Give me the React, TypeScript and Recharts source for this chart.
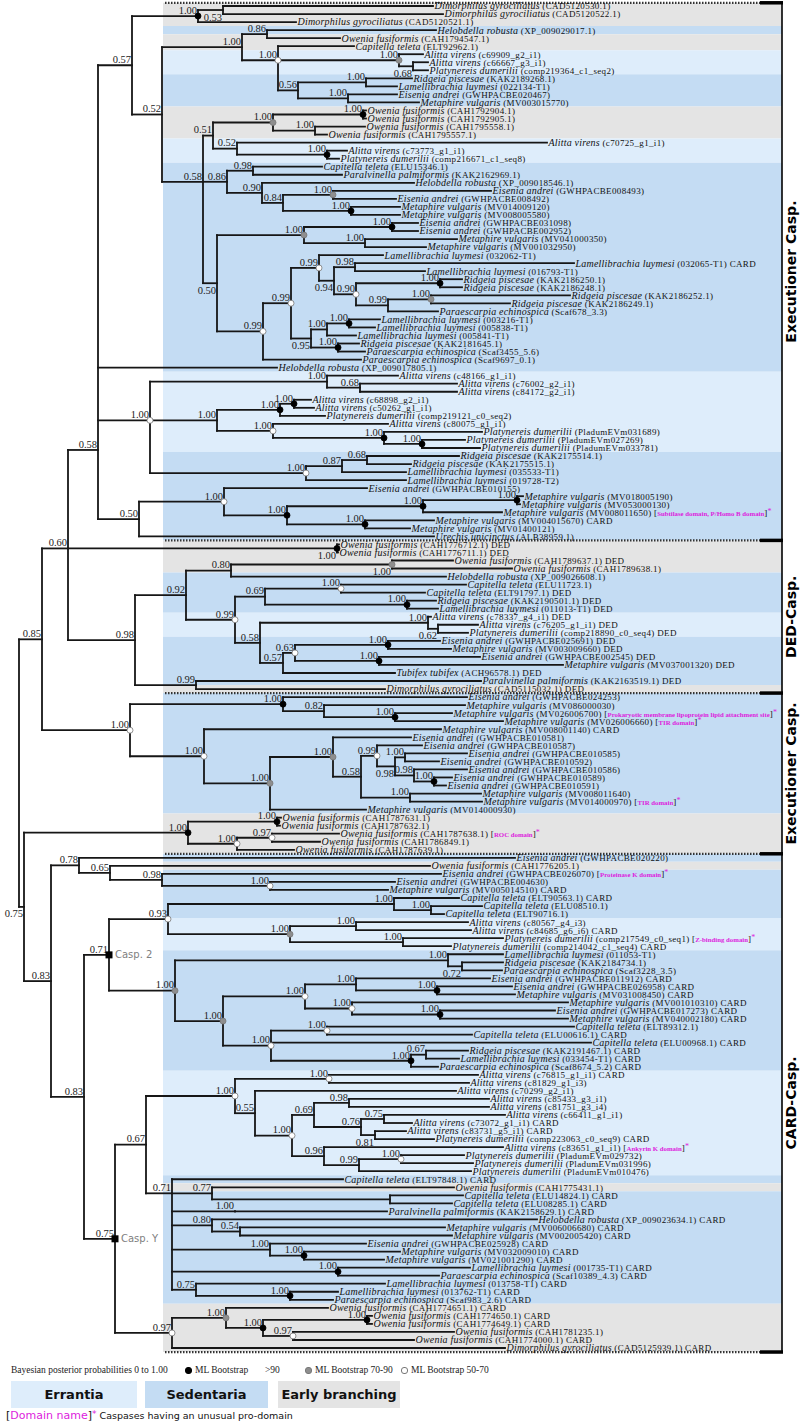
import React from 'react';
import { ComposedChart, XAxis, YAxis, Scatter, ReferenceLine, ReferenceArea } from 'recharts';

const W = 800;
const H = 1428;
const ROW = 8.036; // pixel height of one leaf row
const Y0 = 1 - 6 / ROW;
const Y1 = Y0 + H / ROW;

const SPECIES: Record<string, string> = {
  Dg: 'Dimorphilus gyrociliatus', Hr: 'Helobdella robusta', Of: 'Owenia fusiformis',
  Ct: 'Capitella teleta', Av: 'Alitta virens', Pd: 'Platynereis dumerilii',
  Rp: 'Ridgeia piscesae', Ll: 'Lamellibrachia luymesi', Ea: 'Eisenia andrei',
  Mv: 'Metaphire vulgaris', Pp: 'Paralvinella palmiformis', Pe: 'Paraescarpia echinospica',
  Tt: 'Tubifex tubifex', Uu: 'Urechis unicinctus',
};
// E = Errantia, B = early branching, everything else Sedentaria
const CLADE: Record<string, string> = { Av: 'E', Pd: 'E', Of: 'B', Dg: 'B' };
// rows whose background differs from the species rule in the figure
const BAND_OVERRIDE: Record<number, string> = { 6: 'B' };

const LEAF_SPECIES = `Dg Dg Dg Hr Of Ct Av Av Pd Rp Ll Ea Mv Of Of Of Of Av Av Pd
Ct Pp Hr Ea Ea Mv Mv Ea Ea Mv Mv Ll Ll Ll Rp Rp Rp Rp Pe Ll
Ll Ll Rp Pe Pe Hr Av Av Av Av Av Pd Av Pd Pd Pd Rp Rp Ll Ll
Ea Mv Mv Mv Mv Mv Uu Of Of Of Of Hr Ct Ct Rp Ll Av Av Pd Ea
Mv Ea Mv Tt Pp Dg Ea Mv Mv Mv Mv Ea Ea Ea Ea Ea Ea Ea Mv Mv
Mv Of Of Of Of Of Ea Of Ea Ea Mv Ct Ct Ct Av Av Pd Pd Ll Rp
Pe Ea Ea Mv Mv Ea Mv Ct Ct Ct Rp Ll Pe Av Av Av Av Av Av Av
Av Pd Av Pd Pd Pd Ct Of Ct Ct Pp Hr Mv Mv Ea Mv Mv Ll Pe Ll
Ll Pe Of Of Of Of Of Dg`.split(/\s+/);

const LEAF_ACC = [
  'CAD5120530.1', 'CAD5120522.1', 'CAD5120521.1', 'XP_009029017.1', 'CAH1794547.1', 'ELT92962.1', 'c69909_g2_i1', 'c66667_g3_i1', 'comp219364_c1_seq2', 'KAK2189268.1',
  '022134-T1', 'GWHPACBE020467', 'MV003015770', 'CAH1792904.1', 'CAH1792905.1', 'CAH1795558.1', 'CAH1795557.1', 'c70725_g1_i1', 'c73773_g1_i1', 'comp216671_c1_seq8',
  'ELU15346.1', 'KAK2162969.1', 'XP_009018546.1', 'GWHPACBE008493', 'GWHPACBE008492', 'MV014009120', 'MV008005580', 'GWHPACBE031098', 'GWHPACBE002952', 'MV041000350',
  'MV001032950', '032062-T1', '032065-T1', '016793-T1', 'KAK2186250.1', 'KAK2186248.1', 'KAK2186252.1', 'KAK2186249.1', 'Scaf678_3.3', '003216-T1',
  '005838-T1', '005841-T1', 'KAK2181645.1', 'Scaf3455_5.6', 'Scaf9697_0.1', 'XP_009017805.1', 'c48166_g1_i1', 'c76002_g2_i1', 'c84172_g2_i1', 'c68898_g2_i1',
  'c50262_g1_i1', 'comp219121_c0_seq2', 'c80075_g1_i1', 'PladumEVm031689', 'PladumEVm027269', 'PladumEVm033781', 'KAK2175514.1', 'KAK2175515.1', '035533-T1', '019728-T2',
  'GWHPACBE010155', 'MV018005190', 'MV053000130', 'MV008011650', 'MV004015670', 'MV01400121', 'ALB38959.1', 'CAH1776712.1', 'CAH1776711.1', 'CAH1789637.1',
  'CAH1789638.1', 'XP_009026608.1', 'ELU11723.1', 'ELT91797.1', 'KAK2190501.1', '011013-T1', 'c78337_g4_i1', 'c76205_g1_i1', 'comp218890_c0_seq4', 'GWHPACBE025691',
  'MV003009660', 'GWHPACBE002545', 'MV037001320', 'ACH96578.1', 'KAK2163519.1', 'CAD5115032.1', 'GWHPACBE024253', 'MV086000030', 'MV026006700', 'MV026006660',
  'MV008001140', 'GWHPACBE010581', 'GWHPACBE010587', 'GWHPACBE010585', 'GWHPACBE010592', 'GWHPACBE010586', 'GWHPACBE010589', 'GWHPACBE010591', 'MV008011640', 'MV014000970',
  'MV014000930', 'CAH1787631.1', 'CAH1787632.1', 'CAH1787638.1', 'CAH1786849.1', 'CAH1787639.1', 'GWHPACBE020220', 'CAH1776205.1', 'GWHPACBE026070', 'GWHPACBE004630',
  'MV005014510', 'ELT90563.1', 'ELU08510.1', 'ELT90716.1', 'c80567_g4_i3', 'c84685_g6_i6', 'comp217549_c0_seq1', 'comp214042_c1_seq4', '011053-T1', 'KAK2184734.1',
  'Scaf3228_3.5', 'GWHPACBE011912', 'GWHPACBE026958', 'MV031008450', 'MV001010310', 'GWHPACBE017273', 'MV040002180', 'ELT89312.1', 'ELU00616.1', 'ELU00968.1',
  'KAK2191467.1', '033454-T1', 'Scaf8674_5.2', 'c76815_g1_i1', 'c81829_g1_i3', 'c70299_g2_i1', 'c85433_g3_i1', 'c81751_g3_i4', 'c66411_g1_i1', 'c73072_g1_i1',
  'c83731_g5_i1', 'comp223063_c0_seq9', 'c83651_g1_i1', 'PladumEVm029732', 'PladumEVm031996', 'PladumEVm010476', 'ELT97848.1', 'CAH1775431.1', 'ELU14824.1', 'ELU08285.1',
  'KAK2158629.1', 'XP_009023634.1', 'MV006006680', 'MV002005420', 'GWHPACBE025928', 'MV032009010', 'MV021001290', '001735-T1', 'Scaf10389_4.3', '013758-T1',
  '013762-T1', 'Scaf983_2.6', 'CAH1774651.1', 'CAH1774650.1', 'CAH1774649.1', 'CAH1781235.1', 'CAH1774000.1', 'CAD5125939.1',
];

// C = CARD, D = DED, - = none
const LEAF_TAG = (
  '--------------------' + '------------C-------' + '--------------------' + '----C--DDD---DDDDDDD' +
  'DDDDDD----C---------' + '----------CC---C-C--' + '-CCCCCC-CCCCCC-----C' + 'CC----C-CCCCCCCCCCCC' + 'CCCCC-CC'
).split('');

const DOMAINS: Record<number, string> = {
  64: 'Subtilase domain, P/Homo B domain',
  89: 'Prokaryotic membrane lipoprotein lipid attachment site',
  90: 'TIR domain',
  100: 'TIR domain',
  104: 'ROC domain',
  109: 'Proteinase K domain',
  117: 'Z-binding domain',
  143: 'Ankyrin K domain',
};

// branch tip (x) of every leaf
const LEAF_TIP = [
  433, 443, 296, 436, 340, 354, 423, 428, 428, 412,
  397, 397, 419, 366, 366, 365, 327, 547, 347, 339,
  322, 342, 414, 491, 396, 400, 400, 418, 418, 457,
  426, 383, 574, 425, 462, 462, 570, 510, 438, 380,
  375, 356, 359, 365, 361, 277, 398, 457, 457, 311,
  314, 325, 388, 482, 465, 480, 459, 411, 406, 406,
  367, 523, 520, 502, 434, 410, 434, 339, 338, 453,
  512, 446, 466, 425, 436, 438, 431, 478, 468, 440,
  451, 480, 563, 395, 481, 385, 467, 465, 452, 503,
  441, 411, 422, 467, 439, 467, 452, 446, 481, 482,
  366, 281, 280, 339, 320, 294, 515, 430, 441, 395,
  388, 459, 482, 444, 468, 471, 503, 451, 503, 503,
  502, 490, 512, 515, 568, 555, 568, 574, 472, 591,
  468, 459, 438, 478, 469, 456, 489, 489, 505, 412,
  406, 434, 503, 464, 473, 471, 343, 454, 463, 452,
  387, 537, 445, 452, 366, 400, 384, 470, 439, 385,
  338, 333, 328, 372, 372, 454, 414, 505,
];

// sections: last leaf of each block
const SECTION_ENDS = [67, 86, 106, 168];
const SECTION_NAMES = ['Executioner Casp.', 'DED-Casp.', 'Executioner Casp.', 'CARD-Casp.'];

type Kid = number | TNode;
interface TNode { x: number; s: string; b: string; kids: Kid[]; pos?: string; anchor?: number; casp?: string }
const n = (x: number, s: string, b: string, kids: Kid[], o: any = {}): TNode => ({ x, s, b, kids, ...o });

// ---- Executioner (top) ----
const a2 = n(223, '0.53', '', [1, 2], { pos: 'b' });
const a1 = n(198, '1.00', 'h', [a2, 3]);
const a4 = n(267, '0.86', '', [4, 5]);
const a6b = n(413, '0.68', '', [8, 9], { pos: 'b' });
const a6 = n(399, '1.00', 'm', [7, a6b]);
const a8 = n(366, '1.00', '', [10, 11]);
const a9 = n(348, '1.00', '', [12, 13]);
const a7 = n(298, '0.56', '', [a8, a9]);
const a5 = n(278, '1.00', 'l', [6, a6, a7], { anchor: 1 });
const a3 = n(242, '1.00', '', [a4, a5]);
const b3 = n(363, '1.00', 'h', [14, 15]);
const b4 = n(315, '1.00', '', [16, 17]);
const b2 = n(273, '1.00', 'm', [b3, b4]);
const b6 = n(327, '1.00', 'h', [19, 20]);
const b5 = n(237, '0.52', '', [18, b6]);
const b1 = n(213, '0.51', '', [b2, b5]);
const c2 = n(253, '0.98', '', [21, 22]);
const c5 = n(333, '1.00', 'm', [24, 25]);
const c6 = n(351, '1.00', 'h', [26, 27]);
const c4 = n(283, '0.84', '', [c5, c6]);
const c3 = n(262, '0.90', '', [23, c4]);
const c1 = n(227, '0.86', '', [c2, c3]);
const e3 = n(392, '1.00', 'h', [28, 29]);
const e4 = n(365, '1.00', '', [30, 31]);
const e1 = n(304, '1.00', 'm', [e3, e4]);
const g3 = n(355, '0.98', '', [33, 34]);
const g7 = n(440, '1.00', 'h', [35, 36]);
const g8 = n(431, '1.00', 'm', [37, 38]);
const g6 = n(388, '0.99', '', [g8, 39]);
const g5 = n(356, '0.90', 'l', [g7, g6]);
const g4 = n(334, '0.94', '', [g3, g5], { pos: 'b' });
const g1 = n(319, '0.99', 'l', [32, g4]);
const g9 = n(349, '1.00', 'h', [40, 41]);
const g2 = n(327, '1.00', '', [g9, 42]);
const h1 = n(338, '1.00', 'h', [43, 44]);
const f2 = n(311, '0.95', '', [g2, h1], { pos: 'b' });
const f1 = n(291, '0.99', 'l', [g1, f2]);
const e2 = n(263, '0.99', 'l', [f1, 45]);
const d1 = n(217, '0.50', '', [e1, e2], { pos: 'b' });
const in58 = n(203, '0.58', '', [b1, c1, d1], { anchor: 1 });
const n52 = n(162, '0.52', '', [a3, in58]);
const n57 = n(132, '0.57', '', [a1, n52]);
const i2 = n(360, '0.68', '', [48, 49]);
const i1 = n(327, '1.00', '', [47, i2]);
const i5 = n(294, '1.00', 'h', [50, 51]);
const i4 = n(280, '1.00', 'h', [i5, 52]);
const i8 = n(422, '1.00', 'h', [55, 56]);
const i7 = n(384, '1.00', 'h', [54, i8]);
const i6 = n(273, '1.00', 'l', [53, i7]);
const i3 = n(217, '1.00', '', [i4, i6]);
const j3 = n(367, '0.68', '', [57, 58]);
const j2 = n(342, '0.87', '', [j3, 59]);
const j1 = n(306, '1.00', 'l', [j2, 60]);
const n100 = n(150, '1.00', 'l', [i1, i3, j1], { anchor: 1 });
const k6 = n(517, '1.00', 'h', [62, 63]);
const k4 = n(423, '1.00', 'h', [k6, 64]);
const k5 = n(365, '1.00', 'h', [65, 66]);
const k3 = n(287, '1.00', 'h', [k4, k5]);
const k2 = n(224, '1.00', 'l', [61, k3]);
const k1 = n(139, '0.50', '', [k2, 67]);
const X = n(98, '0.58', '', [n57, 46, n100, k1], { anchor: 2.3 });
// ---- DED ----
const l1 = n(337, '1.00', 'h', [68, 69], { pos: 'b' });
const m6 = n(392, '1.00', 'm', [70, 71], { pos: 'b' });
const m4 = n(231, '0.80', '', [m6, 72]);
const m9 = n(341, '1.00', 'l', [73, 74]);
const m10 = n(407, '1.00', 'h', [75, 76]);
const m7 = n(265, '0.69', '', [m9, m10]);
const m12 = n(438, '0.62', '', [78, 79], { pos: 'b' });
const m11 = n(428, '1.00', '', [77, m12]);
const m15 = n(388, '1.00', 'h', [80, 81]);
const m16 = n(379, '1.00', 'h', [82, 83]);
const m14 = n(295, '0.63', 'l', [m15, m16]);
const m13 = n(283, '0.57', '', [m14, 84]);
const m8 = n(260, '0.58', '', [m11, m13]);
const m5 = n(235, '0.99', 'l', [m7, m8]);
const m2 = n(186, '0.92', '', [m4, m5]);
const m3 = n(196, '0.99', '', [85, 86]);
const m1 = n(135, '0.98', '', [m2, m3]);
const n60 = n(68, '0.60', '', [X, l1, m1], { anchor: 1 });
// ---- Executioner (middle) ----
const n5 = n(395, '1.00', 'h', [89, 90]);
const n4 = n(324, '0.82', '', [88, n5]);
const n2 = n(283, '1.00', 'h', [87, n4]);
const n12 = n(405, '1.00', '', [94, 95]);
const n14 = n(434, '1.00', 'h', [97, 98]);
const n13 = n(414, '0.98', '', [96, n14]);
const n11 = n(395, '0.98', '', [n12, n13], { pos: 'b' });
const n9 = n(377, '0.99', 'l', [93, n11]);
const n10 = n(410, '1.00', '', [99, 100]);
const n8 = n(361, '0.58', '', [n9, n10]);
const n7 = n(333, '1.00', 'm', [92, n8]);
const n6 = n(270, '1.00', 'm', [n7, 101]);
const n3 = n(204, '1.00', 'l', [91, n6]);
const n1 = n(130, '1.00', 'l', [n2, n3]);
const n85 = n(42, '0.85', '', [n60, n1]);
const o2 = n(277, '1.00', 'h', [102, 103]);
const o4 = n(272, '0.97', 'l', [104, 105]);
const o3 = n(237, '1.00', 'l', [o4, 106]);
const o1 = n(188, '1.00', 'h', [o2, o3]);
// ---- CARD ----
const p5 = n(270, '1.00', 'l', [110, 111]);
const p4 = n(162, '0.98', '', [109, p5]);
const p3 = n(110, '0.65', '', [108, p4]);
const p1 = n(79, '0.78', '', [107, p3]);
const q5 = n(431, '1.00', '', [113, 114]);
const q3 = n(394, '1.00', '', [112, q5]);
const q6 = n(356, '1.00', '', [115, 116]);
const q7 = n(403, '1.00', '', [117, 118]);
const q4 = n(290, '1.00', 'm', [q6, q7]);
const q1 = n(168, '0.93', 'l', [q3, q4]);
const q9 = n(462, '0.72', '', [120, 121], { pos: 'b' });
const q8 = n(448, '1.00', '', [119, q9]);
const q13b = n(437, '1.00', 'h', [123, 124]);
const q13 = n(356, '1.00', '', [122, q13b]);
const q14b = n(440, '1.00', 'h', [126, 127]);
const q14 = n(352, '1.00', 'l', [125, q14b]);
const q11 = n(305, '1.00', 'l', [q13, q14]);
const q15 = n(327, '1.00', 'l', [128, 129]);
const q17 = n(426, '0.67', '', [131, 132]);
const q16 = n(411, '1.00', 'h', [q17, 133]);
const q12 = n(271, '1.00', 'l', [q15, 130, q16]);
const q10 = n(223, '1.00', 'm', [q11, q12]);
const q2 = n(175, '1.00', 'm', [q8, q10]);
const q0 = n(109, '0.71', '', [q1, q2], { casp: 'Casp. 2' });
const t1 = n(329, '1.00', 'l', [134, 135]);
const t6 = n(349, '0.98', '', [137, 138]);
const t8 = n(384, '0.75', '', [139, 140]);
const t9 = n(375, '0.81', '', [141, 142], { pos: 'b' });
const t7 = n(361, '0.76', '', [t8, t9]);
const t4 = n(314, '0.69', '', [t6, t7]);
const t11 = n(401, '1.00', 'l', [144, 145]);
const t10 = n(359, '0.99', '', [t11, 146]);
const t5 = n(324, '0.96', '', [143, t10]);
const t3 = n(292, '1.00', 'l', [t4, t5]);
const t2 = n(255, '0.55', '', [136, t3]);
const r2a = n(235, '1.00', 'l', [t1, t2]);
const s1b = n(390, '', '', [149, 150]);
const s1 = n(212, '0.77', '', [148, s1b]);
const s2 = n(235, '1.00', '', [151]);
const s7 = n(240, '0.54', '', [153, 154]);
const s3 = n(212, '0.80', '', [152, s7]);
const s4b = n(304, '1.00', 'h', [156, 157]);
const s4 = n(270, '1.00', '', [155, s4b]);
const s5 = n(338, '1.00', 'h', [158, 159]);
const s6b = n(290, '1.00', 'h', [161, 162]);
const s6 = n(196, '0.75', '', [160, s6b]);
const s0 = n(172, '0.71', '', [147, s1, s2, s3, s4, s5, s6], { anchor: 1 });
const r1 = n(146, '0.67', '', [r2a, s0]);
const u3 = n(367, '1.00', 'h', [164, 165]);
const u4 = n(293, '0.97', 'l', [166, 167]);
const u2 = n(263, '1.00', 'h', [u3, u4]);
const u1 = n(226, '1.00', 'm', [163, u2]);
const r2 = n(172, '0.97', 'l', [u1, 168]);
const r0 = n(115, '0.75', '', [r1, r2], { casp: 'Casp. Y' });
const p2 = n(84, '0.83', '', [q0, r0]);
const p0 = n(51, '0.83', '', [p1, p2]);
const n75 = n(24, '0.75', '', [o1, p0], { pos: 'b' });
const ROOT = n(19, '', '', [n85, n75]);

// ---- layout through the tree ----
const SEGS: { x1: number; y1: number; x2: number; y2: number }[] = [];
const NODE_PTS: any[] = [];
function layout(k: Kid): { x: number; y: number } {
  if (typeof k === 'number') return { x: LEAF_TIP[k - 1], y: k };
  const ps = k.kids.map(layout);
  const ys = ps.map((p) => p.y);
  let y = (ys[0] + ys[ys.length - 1]) / 2;
  if (k.anchor !== undefined) {
    const lo = Math.floor(k.anchor);
    const hi = Math.ceil(k.anchor);
    y = ys[lo] + (k.anchor - lo) * (ys[hi] - ys[lo]);
  }
  SEGS.push({ x1: k.x, y1: Math.min(...ys), x2: k.x, y2: Math.max(...ys) });
  ps.forEach((p) => SEGS.push({ x1: k.x, y1: p.y, x2: p.x, y2: p.y }));
  NODE_PTS.push({ x: k.x, y, s: k.s, b: k.b, pos: k.pos, casp: k.casp });
  return { x: k.x, y };
}
layout(ROOT);

const LEAF_PTS = LEAF_ACC.map((acc, i) => ({
  x: LEAF_TIP[i], y: i + 1, sp: SPECIES[LEAF_SPECIES[i]], acc,
  tag: LEAF_TAG[i] === 'C' ? 'CARD' : LEAF_TAG[i] === 'D' ? 'DED' : '', dom: DOMAINS[i + 1],
}));

const BAND_FILL: Record<string, string> = { E: '#deedfb', S: '#c4dcf3', B: '#e4e4e4' };
const TOP = 0.6;
const BANDS: { g: string; y1: number; y2: number }[] = [];
LEAF_SPECIES.forEach((code, i) => {
  const row = i + 1;
  const g = BAND_OVERRIDE[row] || CLADE[code] || 'S';
  const last = BANDS[BANDS.length - 1];
  if (last && last.g === g && !SECTION_ENDS.includes(row - 1)) last.y2 = row + 0.5;
  else BANDS.push({ g, y1: row === 1 ? TOP : row - 0.5, y2: row + 0.5 });
});
const SEP_ROWS = [TOP, ...SECTION_ENDS.map((r) => r + 0.5)];
const SECTION_PTS = SECTION_ENDS.map((end, i) => ({
  x: 791, y: ((i === 0 ? TOP : SECTION_ENDS[i - 1] + 0.5) + end + 0.5) / 2, t: SECTION_NAMES[i],
}));

const SERIF = "'Liberation Serif', 'Times New Roman', serif";
const SANS = "'DejaVu Sans', Verdana, sans-serif";
const PINK = '#dd22dd';
const INK = '#161616';

const LeafLabel = (p: any) => {
  const d = p.payload;
  return (
    <text x={p.cx + 1.5} y={p.cy} dy="0.34em" fontFamily={SERIF} fontSize={10} letterSpacing={0.2} fill="#111">
      <tspan fontStyle="italic">{d.sp}</tspan>
      <tspan fontSize={9} letterSpacing={0.35}>{` (${d.acc})${d.tag ? ' ' + d.tag : ''}`}</tspan>
      {d.dom ? <tspan fontSize={9}> [</tspan> : null}
      {d.dom ? <tspan fontSize={6.8} letterSpacing={0} fontWeight="bold" fill={PINK}>{d.dom}</tspan> : null}
      {d.dom ? <tspan fontSize={9}>]</tspan> : null}
      {d.dom ? <tspan fontSize={8} fill={PINK} dy="-2">*</tspan> : null}
    </text>
  );
};

const SupportLabel = (p: any) => {
  const d = p.payload;
  if (!d.s) return <g />;
  return (
    <text x={p.cx - 1} y={d.pos === 'b' ? p.cy + 10.5 : p.cy - 2.2} textAnchor="end" fontFamily={SERIF} fontSize={10.5} fill="#222">
      {d.s}
    </text>
  );
};

const BootDot = (p: any) => {
  const b = p.payload.b;
  if (!b) return <g />;
  const fill = b === 'h' ? '#000' : b === 'm' ? '#8e8e8e' : '#fff';
  const stroke = b === 'h' ? '#000' : '#777';
  return <circle cx={p.cx} cy={p.cy} r={3} fill={fill} stroke={stroke} strokeWidth={0.8} />;
};

const CaspMark = (p: any) => {
  if (!p.payload.casp) return <g />;
  return (
    <g>
      <rect x={p.cx - 3.5} y={p.cy - 3.5} width={7} height={7} fill="#000" />
      <text x={p.cx + 6} y={p.cy} dy="0.35em" fontFamily={SANS} fontSize={10} fill="#808080">{p.payload.casp}</text>
    </g>
  );
};

const SectionLabel = (p: any) => (
  <text x={p.cx} y={p.cy} transform={`rotate(-90 ${p.cx} ${p.cy})`} textAnchor="middle" dominantBaseline="central"
    fontFamily={SANS} fontWeight="bold" fontSize={14} fill="#000">
    {p.payload.t}
  </text>
);

const legendDot = (fill: string, stroke: string) => (
  <span style={{ display: 'inline-block', width: 5, height: 5, borderRadius: 3, background: fill, border: `0.8px solid ${stroke}`, marginRight: 3, verticalAlign: 'middle' }} />
);

export default function App() {
  return (
    <div style={{ position: 'absolute', left: 0, top: 0, width: W, height: H, background: '#fff', overflow: 'hidden' }}>
      <ComposedChart width={W} height={H} margin={{ top: 0, right: 0, bottom: 0, left: 0 }}>
        <XAxis type="number" dataKey="x" domain={[0, W]} hide allowDataOverflow />
        <YAxis type="number" dataKey="y" domain={[Y0, Y1]} reversed hide allowDataOverflow />
        {BANDS.map((b, i) => (
          <ReferenceArea key={`band-${i}`} x1={163} x2={782} y1={b.y1} y2={b.y2} fill={BAND_FILL[b.g]} fillOpacity={1} stroke="none" />
        ))}
        {SEP_ROWS.map((r, i) => (
          <ReferenceLine key={`sep-${i}`} segment={[{ x: 165, y: r }, { x: 760, y: r }]} stroke="#333" strokeWidth={2.2} strokeDasharray="1.5 1.5" />
        ))}
        {SEP_ROWS.map((r, i) => (
          <ReferenceLine key={`bar-${i}`} segment={[{ x: 760, y: r }, { x: 783, y: r }]} stroke="#000" strokeWidth={3.5} />
        ))}
        <ReferenceLine segment={[{ x: 782, y: TOP }, { x: 782, y: 168.5 }]} stroke="#000" strokeWidth={1.6} />
        {SEGS.map((s, i) => (
          <ReferenceLine key={`br-${i}`} segment={[{ x: s.x1, y: s.y1 }, { x: s.x2, y: s.y2 }]} stroke={INK} strokeWidth={1.8} strokeLinecap="square" />
        ))}
        <Scatter data={LEAF_PTS} shape={LeafLabel} isAnimationActive={false} />
        <Scatter data={NODE_PTS} shape={SupportLabel} isAnimationActive={false} />
        <Scatter data={NODE_PTS} shape={BootDot} isAnimationActive={false} />
        <Scatter data={NODE_PTS} shape={CaspMark} isAnimationActive={false} />
        <Scatter data={SECTION_PTS} shape={SectionLabel} isAnimationActive={false} />
      </ComposedChart>

      <div style={{ position: 'absolute', left: 11, top: 1365, fontFamily: SERIF, fontSize: 9.5, color: '#222', whiteSpace: 'nowrap', display: 'flex', alignItems: 'center' }}>
        <span style={{ width: 174 }}>Bayesian posterior probabilities 0 to 1.00</span>
        {legendDot('#000', '#000')}<span style={{ width: 70 }}>ML Bootstrap</span><span style={{ width: 40 }}>&gt;90</span>
        {legendDot('#8e8e8e', '#777')}<span style={{ width: 86 }}>ML Bootstrap 70-90</span>
        {legendDot('#fff', '#777')}<span>ML Bootstrap 50-70</span>
      </div>
      {[
        { t: 'Errantia', l: 11, w: 126, c: BAND_FILL.E },
        { t: 'Sedentaria', l: 145, w: 123, c: BAND_FILL.S },
        { t: 'Early branching', l: 278, w: 122, c: BAND_FILL.B },
      ].map((b) => (
        <div key={b.t} style={{ position: 'absolute', left: b.l, top: 1381, width: b.w, height: 27, background: b.c, fontFamily: SANS, fontWeight: 'bold', fontSize: 13, color: '#111', display: 'flex', alignItems: 'center', justifyContent: 'center' }}>
          {b.t}
        </div>
      ))}
      <div style={{ position: 'absolute', left: 6, top: 1409, fontFamily: SANS, fontSize: 10, color: '#111', whiteSpace: 'nowrap' }}>
        <span style={{ fontSize: 11 }}>[</span><span style={{ color: PINK, fontSize: 11 }}>Domain name</span><span style={{ fontSize: 11 }}>]</span>
        <span style={{ color: PINK, fontSize: 9, verticalAlign: 'top' }}>*</span>
        <span style={{ fontSize: 9.5 }}> Caspases having an unusual pro-domain</span>
      </div>
    </div>
  );
}
